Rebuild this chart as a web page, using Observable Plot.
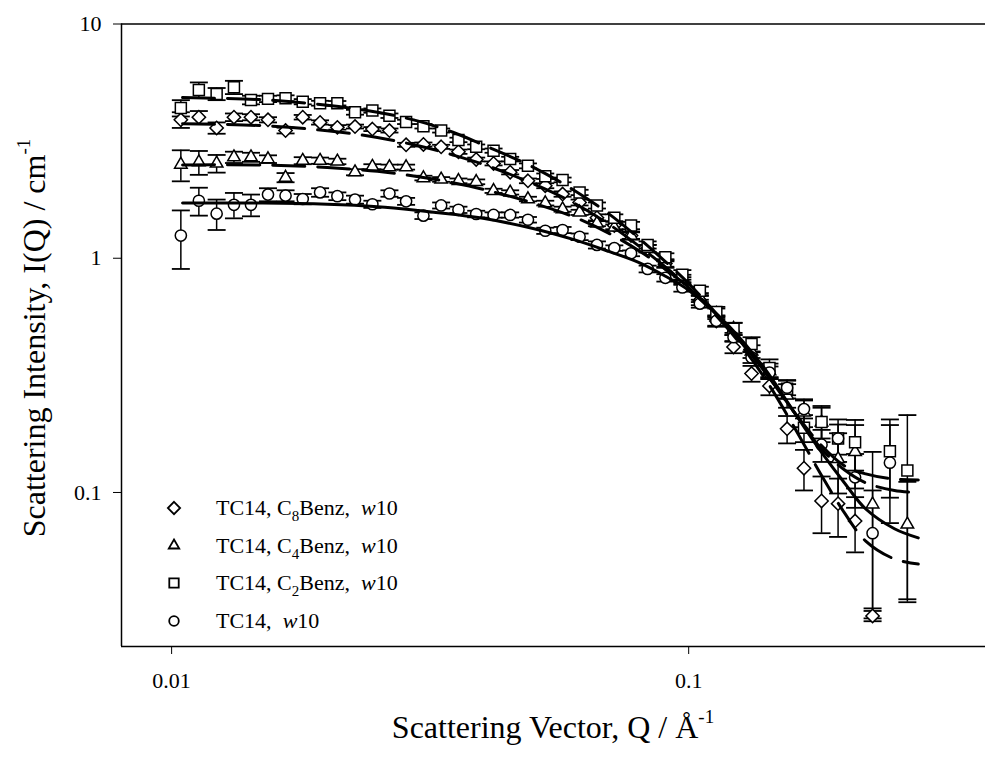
<!DOCTYPE html>
<html><head><meta charset="utf-8">
<script src="https://cdn.jsdelivr.net/npm/d3@7"></script>
<script src="https://cdn.jsdelivr.net/npm/@observablehq/plot@0.6"></script>
<style>body{margin:0;background:#fff}#chart{width:989px;height:760px}</style>
</head><body><div id="chart"></div>
<script>
// Scattering vector grid (Å^-1)
const Q = [0.01042,0.01129,0.01222,0.0132,0.01424,0.01536,0.01661,0.01793,0.01937,0.02092,0.02263,0.02445,0.02638,0.02841,0.03069,0.03321,0.03587,0.03882,0.04194,0.04516,0.04888,0.0528,0.05703,0.06152,0.06646,0.07181,0.07736,0.08329,0.09014,0.09723,0.1051,0.1131,0.1221,0.1323,0.1433,0.155,0.1671,0.1807,0.1945,0.2098,0.2268,0.245,0.2648];

// TC14, C8Benz, w10 (diamonds)
const c8I   = [3.90,4.00,3.60,4.00,4.00,3.90,3.51,4.00,3.80,3.62,3.65,3.56,3.51,3.05,3.06,2.99,2.85,2.64,2.54,2.33,2.14,2.04,1.88,1.73,1.49,1.38,1.25,1.10,0.95,0.80,0.66,0.54,0.418,0.322,0.285,0.187,0.127,0.092,0.0896,0.0755,0.0297,null,null];
const c8Err = [0.30,0.25,0.20,0.15,0.12,0.10,0.10,0.09,0.08,0.08,0.07,0.07,0.07,0.06,0.06,0.06,0.06,0.05,0.05,0.05,0.05,0.05,0.05,0.05,0.05,0.05,0.05,0.04,0.04,0.03,0.03,0.03,0.025,0.025,0.025,0.025,0.025,0.025,0.025,0.02,0.0015,null,null];
// TC14, C4Benz, w10 (triangles)
const c4I   = [2.51,2.57,2.54,2.70,2.70,2.65,2.21,2.61,2.61,2.59,2.33,2.46,2.45,2.45,2.20,2.17,2.14,2.12,1.94,1.91,1.79,1.72,1.62,1.57,1.41,1.354,1.25,1.10,0.95,0.82,0.68,0.58,0.50,0.40,0.33,0.26,0.22,0.199,0.139,0.149,0.089,null,0.073];
const c4Err = [0.38,0.30,0.22,0.15,0.12,0.10,0.10,0.09,0.08,0.07,0.07,0.06,0.06,0.06,0.05,0.05,0.05,0.05,0.04,0.04,0.04,0.04,0.04,0.04,0.04,0.04,0.04,0.04,0.03,0.03,0.03,0.03,0.03,0.025,0.025,0.03,0.03,0.035,0.04,0.045,0.06,null,0.038];
// TC14, C2Benz, w10 (squares)
const c2I   = [4.38,5.23,5.03,5.37,4.74,4.79,4.82,4.66,4.59,4.59,4.20,4.27,4.06,3.82,3.66,3.51,3.20,2.99,2.88,2.65,2.48,2.24,2.16,1.91,1.68,1.49,1.38,1.14,1.01,0.85,0.726,0.59,0.50,0.43,0.34,0.277,0.189,0.20,0.17,0.164,null,0.150,0.124];
const c2Err = [0.35,0.40,0.30,0.35,0.20,0.15,0.14,0.12,0.11,0.10,0.10,0.09,0.09,0.08,0.08,0.07,0.07,0.07,0.06,0.06,0.06,0.06,0.05,0.05,0.05,0.05,0.05,0.04,0.04,0.04,0.03,0.03,0.03,0.03,0.03,0.025,0.025,0.03,0.035,0.04,null,0.055,0.09];
// TC14, w10 (circles)
const w10I   = [1.25,1.76,1.55,1.69,1.69,1.87,1.85,1.79,1.91,1.84,1.78,1.70,1.89,1.75,1.52,1.68,1.61,1.545,1.53,1.53,1.46,1.31,1.32,1.235,1.14,1.105,1.05,0.90,0.825,0.75,0.64,0.54,0.46,0.377,0.325,0.28,0.227,0.16,0.17,0.116,0.067,0.134,null];
const w10Err = [0.35,0.24,0.23,0.21,0.18,0.12,0.10,0.09,0.08,0.07,0.07,0.06,0.06,0.06,0.05,0.05,0.05,0.05,0.04,0.04,0.04,0.04,0.04,0.04,0.04,0.03,0.03,0.03,0.03,0.03,0.025,0.025,0.02,0.02,0.02,0.02,0.02,0.025,0.025,0.03,0.035,0.06,null];

// Model fits
const qFit   = [0.0105,0.015,0.02,0.025,0.03,0.035,0.04,0.05,0.06,0.07,0.08,0.09,0.1,0.12,0.14,0.16,0.18,0.2,0.22,0.25,0.278];
const c8Fit  = [3.75,3.68,3.5,3.28,3.02,2.76,2.52,2.08,1.72,1.4,1.13,0.92,0.75,0.49,0.31,0.19,0.12,0.082,0.062,0.052,0.0495];
const c4Fit  = [2.5,2.5,2.44,2.35,2.23,2.1,1.97,1.72,1.5,1.28,1.08,0.9,0.75,0.5,0.33,0.22,0.155,0.125,0.11,0.102,0.0998];
const c2Fit  = [4.85,4.75,4.5,4.2,3.85,3.45,3.05,2.45,1.95,1.55,1.22,0.97,0.78,0.5,0.33,0.22,0.16,0.13,0.12,0.114,0.113];
const w10Fit = [1.72,1.72,1.70,1.66,1.60,1.54,1.48,1.34,1.20,1.07,0.96,0.84,0.73,0.51,0.34,0.22,0.15,0.11,0.085,0.07,0.064];

const xTicks = [0.01, 0.1];
const yTicks = [0.1, 1, 10];
const xDomain = [0.008, 0.375];
const yDomain = [0.022, 10];

const series = [
  {I: c8I, err: c8Err, fit: c8Fit, symbol: "diamond2", r: 6.0, dash: "32,13"},
  {I: c4I, err: c4Err, fit: c4Fit, symbol: "triangle2", r: 6.0, dash: "32,13"},
  {I: c2I, err: c2Err, fit: c2Fit, symbol: "square2", r: 7.0, dash: "32,13"},
  {I: w10I, err: w10Err, fit: w10Fit, symbol: "circle", r: 5.6, dash: null}
];

const cap = {draw(ctx, size) { const h = Math.sqrt(size / Math.PI); ctx.moveTo(-h, 0); ctx.lineTo(h, 0); }};
const yLo = yDomain[0];

const barMarks = [], dotMarks = [], fitMarks = [];
for (const s of series) {
  const data = Q.map((q, i) => ({q, I: s.I[i], e: s.err[i]})).filter(d => d.I != null);
  barMarks.push(Plot.ruleX(data, {x: "q", y1: d => Math.max(d.I - d.e, yLo), y2: d => d.I + d.e, stroke: "black", strokeWidth: 1.5}));
  barMarks.push(Plot.dot(data, {x: "q", y: d => d.I + d.e, symbol: cap, r: 9, fill: "none", stroke: "black", strokeWidth: 1.8}));
  barMarks.push(Plot.dot(data.filter(d => d.I - d.e > yLo), {x: "q", y: d => d.I - d.e, symbol: cap, r: 9, fill: "none", stroke: "black", strokeWidth: 1.8}));
  dotMarks.push(Plot.dot(data, {x: "q", y: "I", symbol: s.symbol, r: s.r, fill: "white", stroke: "black", strokeWidth: 1.5}));
  const fd = qFit.map((q, i) => ({q, I: s.fit[i]}));
  fitMarks.push(Plot.line(fd, {x: "q", y: "I", stroke: "black", strokeWidth: 3, curve: "catmull-rom", strokeDasharray: s.dash || undefined}));
}

const chart = Plot.plot({
  width: 989, height: 760,
  marginLeft: 121, marginRight: 4, marginTop: 23.5, marginBottom: 114,
  style: {fontFamily: "'Liberation Serif', 'Times New Roman', serif", fontSize: "22px", color: "black", background: "white"},
  x: {type: "log", domain: xDomain, ticks: xTicks, tickFormat: d => String(d), tickSize: 8, tickPadding: 18, label: null},
  y: {type: "log", domain: yDomain, ticks: yTicks, tickFormat: d => String(d), tickSize: 8, tickPadding: 12, label: null},
  marks: [
    Plot.ruleY([yDomain[1]], {stroke: "black", strokeWidth: 1.5}),
    Plot.ruleY([yDomain[0]], {stroke: "black", strokeWidth: 1.5}),
    Plot.ruleX([xDomain[0]], {stroke: "black", strokeWidth: 1.5}),
    ...barMarks, ...dotMarks, ...fitMarks
  ]
});
document.getElementById("chart").appendChild(chart);

const svg = d3.select(chart);
const g = svg.append("g").attr("font-family", "'Liberation Serif', 'Times New Roman', serif").attr("fill", "black");

// axis titles
const xt = g.append("text").attr("x", 553).attr("y", 738).attr("text-anchor", "middle").attr("font-size", 32);
xt.append("tspan").text("Scattering Vector, Q / Å");
xt.append("tspan").attr("dy", -15).attr("font-size", 19).text("-1");

const yt = g.append("text").attr("transform", "translate(45,338) rotate(-90)").attr("text-anchor", "middle").attr("font-size", 32);
yt.append("tspan").text("Scattering Intensity, I(Q) / cm");
yt.append("tspan").attr("dy", -15).attr("font-size", 19).text("-1");

// legend
const legendItems = [
  {sym: d3.symbolDiamond2, r: 5.5, sub: "8"},
  {sym: d3.symbolTriangle2, r: 5.0, sub: "4"},
  {sym: d3.symbolSquare2, r: 6.0, sub: "2"},
  {sym: d3.symbolCircle, r: 4.8, sub: null}
];
const rowY = [508, 545.5, 583, 621];
legendItems.forEach((it, i) => {
  g.append("path").attr("d", d3.symbol(it.sym, Math.PI * it.r * it.r)())
    .attr("transform", `translate(174,${rowY[i]})`).attr("fill", "white").attr("stroke", "black").attr("stroke-width", 1.8);
  const t = g.append("text").attr("x", 216).attr("y", rowY[i] + 7).attr("font-size", 22)
    .attr("text-anchor", "start").style("white-space", "pre");
  if (it.sub) {
    t.append("tspan").text("TC14, C");
    t.append("tspan").attr("dy", 6).attr("font-size", 15).text(it.sub);
    t.append("tspan").attr("dy", -6).text("Benz,  ");
  } else {
    t.append("tspan").text("TC14,  ");
  }
  t.append("tspan").attr("font-style", "italic").text("w");
  t.append("tspan").text("10");
});
</script>
</body></html>
